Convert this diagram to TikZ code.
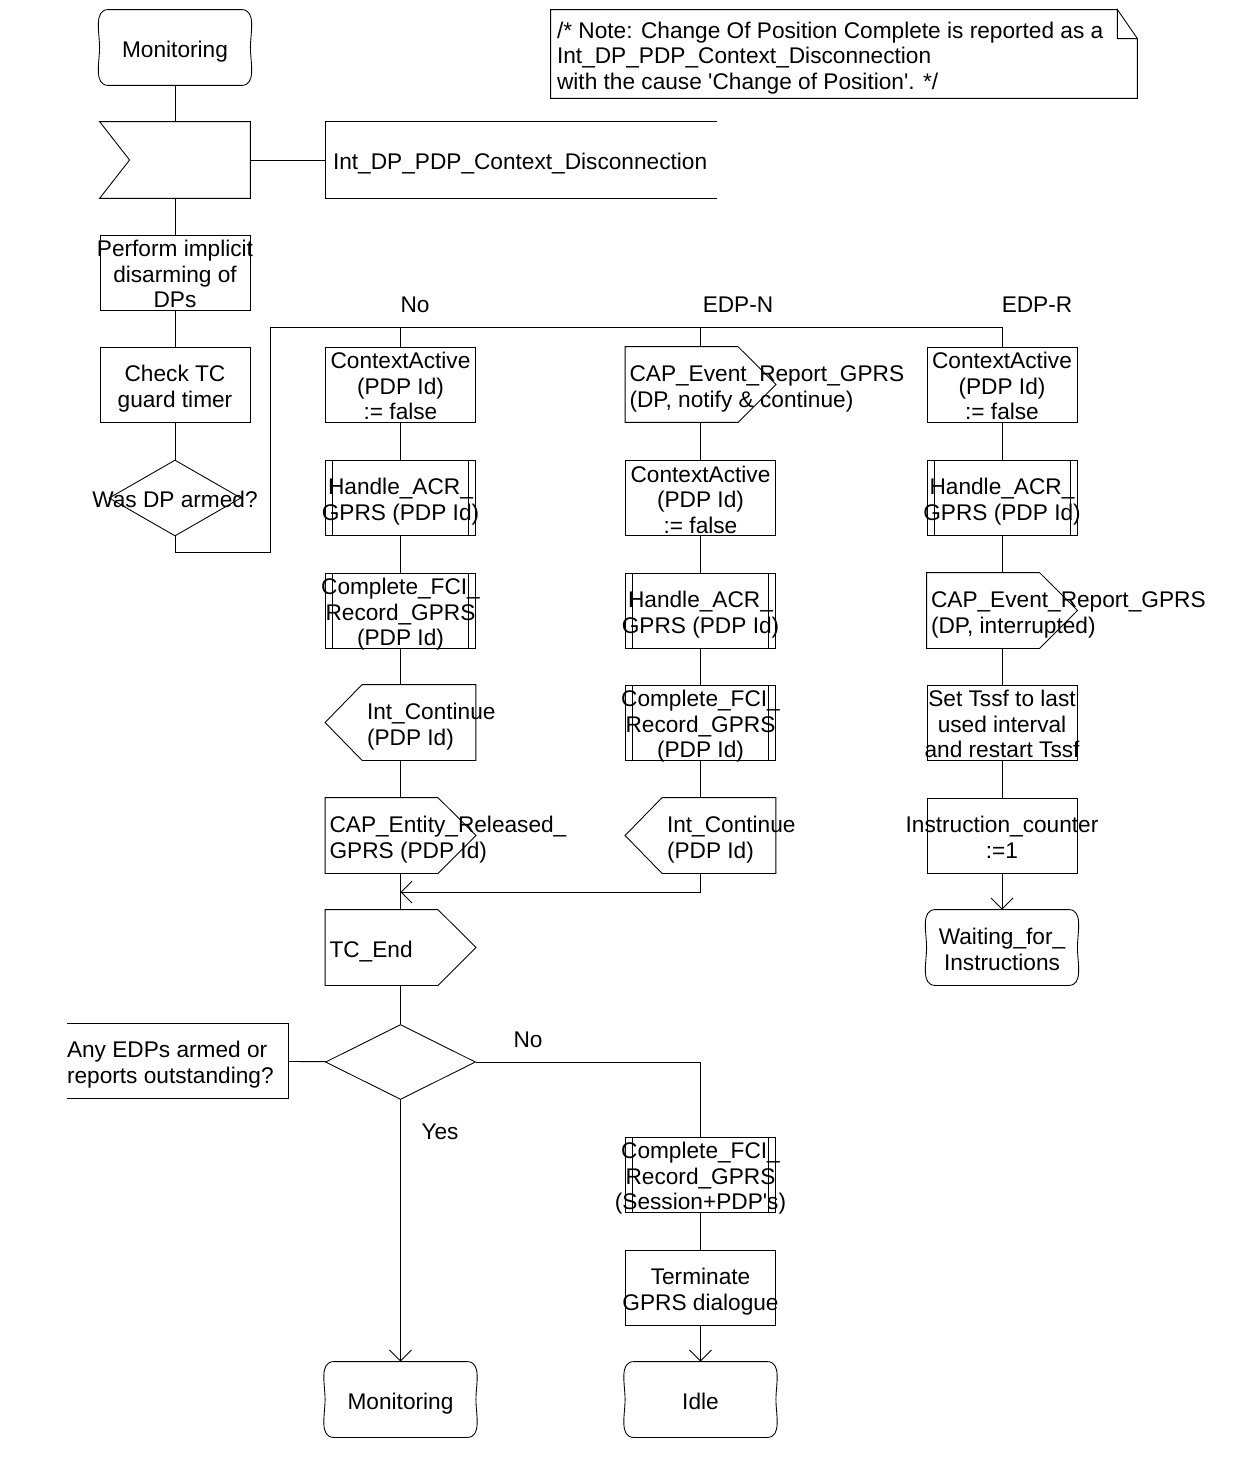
\documentclass[tikz,border=0pt]{standalone}
\usepackage{fontspec}
\setmainfont{Liberation Sans}[Ligatures=TeXOff]
\usetikzlibrary{arrows.meta,shapes.geometric}

\newcommand\fs{\fontsize{12.9}{14.6}\selectfont}
\newcommand\ctxt[1]{\makebox[0pt]{\raisebox{-5.6pt}[0pt][0pt]{\begin{tabular}{@{}c@{}}#1\end{tabular}}}}
\newcommand\ltxt[2][2.84cm]{\makebox[#1][l]{\raisebox{-5.6pt}[0pt][0pt]{\begin{tabular}{@{}l@{}}#2\end{tabular}}}}
% outlines of the SDL symbols
\newcommand\statesym[1]{\draw ([xshift=0.18cm]#1.north west) -- ([xshift=-0.18cm]#1.north east) to[out=0,in=90] (#1.east) to[out=-90,in=0] ([xshift=-0.18cm]#1.south east) -- ([xshift=0.18cm]#1.south west) to[out=180,in=-90] (#1.west) to[out=90,in=180] cycle;}
\newcommand\outsym[1]{\draw (#1.north west) -- ([xshift=-0.76cm]#1.north east) -- (#1.east) -- ([xshift=-0.76cm]#1.south east) -- (#1.south west) -- cycle;}
\newcommand\insym[1]{\draw ([xshift=0.74cm]#1.north west) -- (#1.north east) -- (#1.south east) -- ([xshift=0.74cm]#1.south west) -- (#1.west) -- cycle;}
\newcommand\rcvsym[1]{\draw (#1.north west) -- (#1.north east) -- (#1.south east) -- (#1.south west) -- ([xshift=0.6cm]#1.west) -- cycle;}
\newcommand\extsym[1]{\draw (#1.north east) -- (#1.north west) -- (#1.south west) -- (#1.south east);}
\newcommand\cmtsym[1]{\draw (#1.north west) -- (#1.north east) -- (#1.south east) -- (#1.south west);}
\newcommand\notesym[1]{\draw ([xshift=-0.4cm]#1.north east) -- (#1.north west) -- (#1.south west) -- (#1.south east) -- ([yshift=-0.58cm]#1.north east) -- ([xshift=-0.4cm]#1.north east) -- ([xshift=-0.4cm,yshift=-0.58cm]#1.north east) -- ([yshift=-0.58cm]#1.north east);}

\begin{document}
\begin{tikzpicture}[x=0.02cm,y=-0.02cm,line width=0.5pt,>={Straight Barb[length=0.22cm,width=0.44cm]},
    every node/.style={font=\fs},
    box/.style={minimum width=3cm,minimum height=1.5cm,inner sep=0pt},
    task/.style={box,draw},
    proc/.style={box,draw,path picture={\draw ([xshift=0.14cm]path picture bounding box.north west) -- ([xshift=0.14cm]path picture bounding box.south west) ([xshift=-0.14cm]path picture bounding box.north east) -- ([xshift=-0.14cm]path picture bounding box.south east);}},
    ask/.style={diamond,draw,inner sep=0pt}]
  \useasboundingbox (0,0) rectangle (1257,1470);

  % start
  \node[box] (st1) at (175,47.5) {\ctxt{Monitoring}};
  \statesym{st1}
  \node[box,minimum height=1.52cm] (in1) at (175,160) {};
  \rcvsym{in1}
  \node[box,minimum width=7.82cm,minimum height=1.52cm] (ext1) at (521.5,160) {\ltxt[7.54cm]{Int\_DP\_PDP\_Context\_Disconnection}};
  \extsym{ext1}
  \node[box,minimum width=11.72cm,minimum height=1.76cm] (note) at (844,54) {\ltxt[11.48cm]{/* Note: Change Of Position Complete is reported as a\\Int\_DP\_PDP\_Context\_Disconnection\\with the cause 'Change of Position'. */}};
  \notesym{note}
  \node[task] (pr1) at (175,272.5) {\ctxt{Perform implicit\\disarming of\\DPs}};
  \node[task] (pr2) at (175,384.5) {\ctxt{Check TC\\guard timer}};
  \node[ask,minimum width=2.64cm,minimum height=1.52cm] (dc1) at (175,498) {\ctxt{Was DP armed?}};
  \draw (st1) -- (in1);
  \draw (in1) -- (ext1);
  \draw (in1) -- (pr1);
  \draw (pr1) -- (pr2);
  \draw (pr2) -- (dc1);

  % branches
  \node (lno) at (415,305) {No};
  \node (ledpn) at (738,305) {EDP-N};
  \node (ledpr) at (1037,305) {EDP-R};
  \coordinate (j1) at (270,552);
  \coordinate (j2) at (270,327);

  % No
  \node[task] (a1) at (400.5,384.5) {\ctxt{ContextActive\\(PDP Id)\\:= false}};
  \node[proc] (a2) at (400.5,498) {\ctxt{Handle\_ACR\_\\GPRS (PDP Id)}};
  \node[proc] (a3) at (400.5,610.5) {\ctxt{Complete\_FCI\_\\Record\_GPRS\\(PDP Id)}};
  \node[box] (a4) at (400.5,722.5) {\ltxt[1.34cm]{Int\_Continue\\(PDP Id)}};
  \insym{a4}
  \node[box] (a5) at (400.5,835.5) {\ltxt{CAP\_Entity\_Released\_\\GPRS (PDP Id)}};
  \outsym{a5}
  \node[box] (tc) at (400.5,947.5) {\ltxt{TC\_End}};
  \outsym{tc}

  % EDP-N
  \node[box] (b1) at (700.5,384.5) {\ltxt{CAP\_Event\_Report\_GPRS\\(DP, notify \& continue)}};
  \outsym{b1}
  \node[task] (b2) at (700.5,498) {\ctxt{ContextActive\\(PDP Id)\\:= false}};
  \node[proc] (b3) at (700.5,610.5) {\ctxt{Handle\_ACR\_\\GPRS (PDP Id)}};
  \node[proc] (b4) at (700.5,722.5) {\ctxt{Complete\_FCI\_\\Record\_GPRS\\(PDP Id)}};
  \node[box] (b5) at (700.5,835.5) {\ltxt[1.34cm]{Int\_Continue\\(PDP Id)}};
  \insym{b5}

  % EDP-R
  \node[task] (c1) at (1002,384.5) {\ctxt{ContextActive\\(PDP Id)\\:= false}};
  \node[proc] (c2) at (1002,498) {\ctxt{Handle\_ACR\_\\GPRS (PDP Id)}};
  \node[box] (c3) at (1002,610.5) {\ltxt{CAP\_Event\_Report\_GPRS\\(DP, interrupted)}};
  \outsym{c3}
  \node[task] (c4) at (1002,722.5) {\ctxt{Set Tssf to last\\used interval\\and restart Tssf}};
  \node[task] (c5) at (1002,835.5) {\ctxt{Instruction\_counter\\:=1}};
  \node[box] (c6) at (1002,947.5) {\ctxt{Waiting\_for\_\\Instructions}};
  \statesym{c6}

  \draw (dc1.south) |- (j1) -- (j2) -| (c1.north);
  \draw (a1.north) -- (a1.north |- j2);
  \draw (b1.north) -- (b1.north |- j2);
  \draw (a1) -- (a2);
  \draw (a2) -- (a3);
  \draw (a3) -- (a4);
  \draw (a4) -- (a5);
  \draw (a5) -- (tc);
  \draw (b1) -- (b2);
  \draw (b2) -- (b3);
  \draw (b3) -- (b4);
  \draw (b4) -- (b5);
  \coordinate (mg) at (400.5,892);
  \draw[->] (b5.south) |- (mg);
  \draw (c1) -- (c2);
  \draw (c2) -- (c3);
  \draw (c3) -- (c4);
  \draw (c4) -- (c5);
  \draw[->] (c5) -- (c6);

  % end
  \node[ask,minimum width=3cm,minimum height=1.5cm] (dc2) at (400.5,1062) {};
  \node[box,minimum width=4.42cm,minimum height=1.48cm] (cm) at (177.5,1061) {\ltxt[4.42cm]{Any EDPs armed or\\reports outstanding?}};
  \cmtsym{cm}
  \node (lno2) at (528,1040) {No};
  \node (lyes) at (440,1132) {Yes};
  \node[proc] (d1) at (700.5,1174.5) {\ctxt{Complete\_FCI\_\\Record\_GPRS\\(Session+PDP's)}};
  \node[task] (d2) at (700.5,1287.5) {\ctxt{Terminate\\GPRS dialogue}};
  \node[box] (d3) at (700.5,1399.5) {\ctxt{Idle}};
  \statesym{d3}
  \node[box] (st2) at (400.5,1399.5) {\ctxt{Monitoring}};
  \statesym{st2}
  \draw (tc) -- (dc2);
  \draw (cm) -- (dc2);
  \draw (dc2.east) -| (d1.north);
  \draw[->] (dc2) -- (st2);
  \draw (d1) -- (d2);
  \draw[->] (d2) -- (d3);
\end{tikzpicture}
\end{document}
